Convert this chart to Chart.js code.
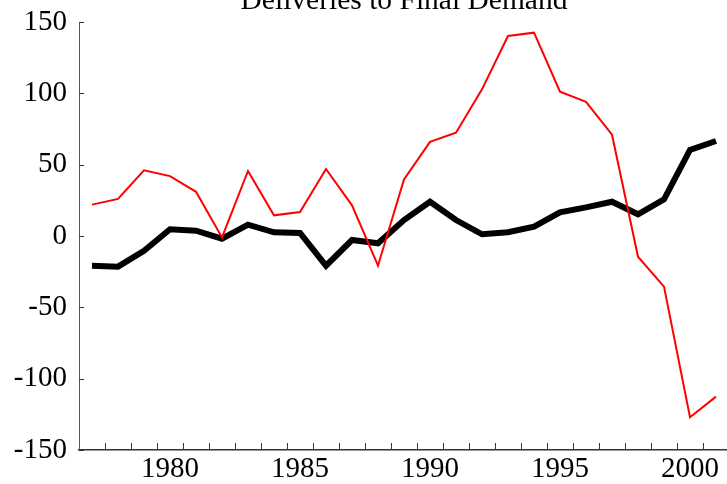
<!DOCTYPE html>
<html>
<head>
<meta charset="utf-8">
<script src="https://cdn.jsdelivr.net/npm/chart.js@4"></script>
<style>
  html, body { margin: 0; padding: 0; background: #fff; overflow: hidden; }
  #wrap { width: 729px; height: 484px; }
</style>
</head>
<body>
<div id="wrap"><canvas id="chart" width="729" height="484"></canvas></div>
<script>
const years = ['1977','1978','1979','1980','1981','1982','1983','1984','1985','1986','1987','1988',
               '1989','1990','1991','1992','1993','1994','1995','1996','1997','1998','1999','2000','2001'];
const redSeries = [22, 26, 46, 42, 31, -1, 45.6, 14.5, 16.8, 47, 21.5, -20.8,
                   39.7, 66, 72.4, 102.8, 140.2, 142.5, 101.2, 94, 71, -14.5, -35.5, -127, -112.6];
const blackSeries = [-20.8, -21.5, -10.3, 4.7, 3.7, -1.9, 7.9, 2.6, 2.1, -20.8, -2.8, -5.1,
                     11.2, 24, 11.2, 1.2, 2.6, 6.5, 16.6, 20.1, 24, 15.2, 25.7, 60.3, 66.6];
const yTicks = [-150, -100, -50, 0, 50, 100, 150];
const titleText = 'Deliveries to Final Demand';

const font = { family: '"Liberation Serif", "Times New Roman", serif', size: 29 };

// inward tick marks + title centred over the plot area
const axisDecor = {
    id: 'axisDecor',
    afterDraw(c) {
        const ctx = c.ctx, x = c.scales.x, y = c.scales.y, a = c.chartArea;
        ctx.save();
        ctx.strokeStyle = '#333';
        ctx.lineWidth = 1;
        yTicks.forEach(v => {
            const py = Math.round(y.getPixelForValue(v)) + 0.5;
            ctx.beginPath();
            ctx.moveTo(a.left, py);
            ctx.lineTo(a.left + 5, py);
            ctx.stroke();
        });
        for (let i = 0; i < years.length - 1; i++) {
            const px = Math.round((x.getPixelForValue(i) + x.getPixelForValue(i + 1)) / 2) + 0.5;
            ctx.beginPath();
            ctx.moveTo(px, a.bottom);
            ctx.lineTo(px, a.bottom - 7);
            ctx.stroke();
        }
        ctx.fillStyle = '#000';
        ctx.font = '29.5px ' + font.family;
        ctx.textAlign = 'center';
        ctx.textBaseline = 'alphabetic';
        ctx.fillText(titleText, (a.left + a.right) / 2, 9);
        ctx.restore();
    }
};

new Chart(document.getElementById('chart'), {
    type: 'line',
    data: {
        labels: years,
        datasets: [
            {
                data: redSeries,
                borderColor: '#ff0000',
                borderWidth: 2,
                pointRadius: 0,
                tension: 0,
                order: 0
            },
            {
                data: blackSeries,
                borderColor: '#000000',
                borderWidth: 6,
                borderJoinStyle: 'miter',
                pointRadius: 0,
                tension: 0,
                order: 1
            }
        ]
    },
    options: {
        responsive: false,
        animation: false,
        layout: { padding: { top: 22, right: 0, left: 0, bottom: 0 } },
        plugins: { legend: { display: false }, tooltip: { enabled: false }, title: { display: false } },
        scales: {
            x: {
                offset: true,
                grid: { display: true, drawOnChartArea: false, drawTicks: false, color: '#333' },
                border: { display: true, color: '#333', width: 1.5 },
                ticks: {
                    autoSkip: false,
                    maxRotation: 0,
                    padding: 2,
                    color: '#000',
                    font: font,
                    callback: function (v, i) {
                        const yr = years[i];
                        return (+yr % 5 === 0) ? yr : '';
                    }
                },
                afterFit(s) { s.height = 34; s.paddingLeft = 0; s.paddingRight = 0; }
            },
            y: {
                min: -150,
                max: 150,
                afterBuildTicks(s) { s.ticks = yTicks.map(v => ({ value: v })); },
                grid: { display: false, drawTicks: false },
                border: { display: true, color: '#555', width: 1 },
                ticks: {
                    padding: 12,
                    color: '#000',
                    font: font,
                    callback: v => String(v).replace('\u2212', '-')
                },
                afterFit(s) { s.width = 79; s.paddingTop = 0; s.paddingBottom = 0; }
            }
        }
    },
    plugins: [axisDecor]
});
</script>
</body>
</html>
